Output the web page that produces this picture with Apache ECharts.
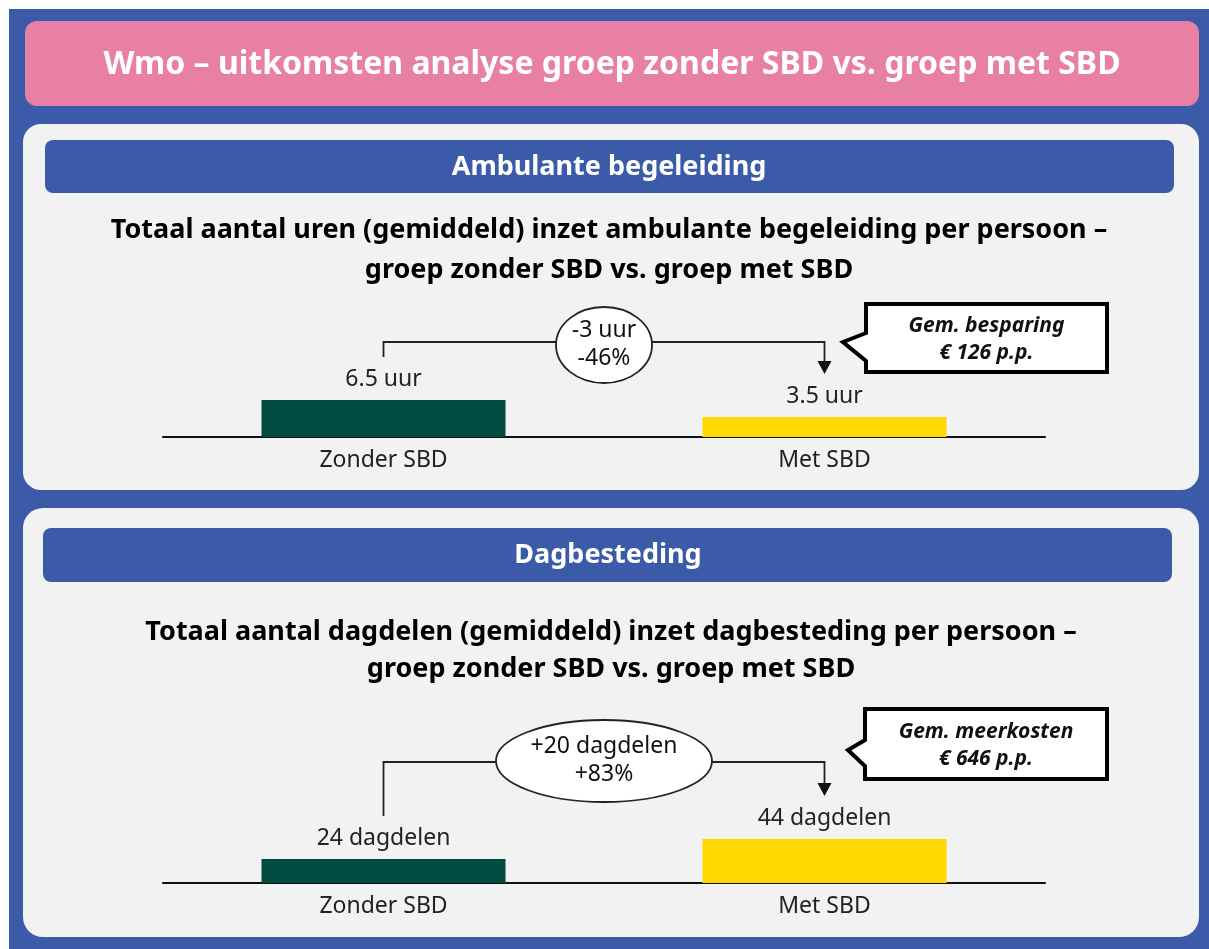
<!DOCTYPE html>
<html>
<head>
<meta charset="utf-8">
<script src="https://cdn.jsdelivr.net/npm/echarts@6/dist/echarts.min.js"></script>
<style>
  html, body { margin: 0; padding: 0; background: #fff; }
  #main { width: 1209px; height: 949px; }
</style>
</head>
<body>
<div id="main"></div>
<script>
  // data
  var categories = ["Zonder SBD", "Met SBD"];
  var urenValues = [6.5, 3.5];
  var dagdelenValues = [24, 44];
  var urenDiff = ["-3 uur", "-46%"];
  var dagdelenDiff = ["+20 dagdelen", "+83%"];
  var urenCallout = ["Gem. besparing", "€ 126 p.p."];
  var dagdelenCallout = ["Gem. meerkosten", "€ 646 p.p."];
  var barColors = ["#024B41", "#FFD800"];

  var blue = "#3B5BA8";
  var font = "'Noto Sans', sans-serif";

  var myChart = echarts.init(document.getElementById("main"));

  function barSeries(values, idx, unit) {
    return {
      type: "bar",
      xAxisIndex: idx,
      yAxisIndex: idx,
      barWidth: 244,
      data: values.map(function(v, i) {
        return { value: v, itemStyle: { color: barColors[i] } };
      }),
      label: {
        show: true,
        position: "top",
        distance: 9,
        color: "#222",
        fontFamily: font,
        fontSize: 23,
        formatter: function(p) { return p.value + " " + unit; }
      },
      silent: true
    };
  }

  function xAxis(idx) {
    return {
      type: "category",
      gridIndex: idx,
      data: categories,
      axisLine: { lineStyle: { color: "#111", width: 2 } },
      axisTick: { show: false },
      axisLabel: { color: "#222", fontFamily: font, fontSize: 23, margin: 12 }
    };
  }

  function yAxis(idx, max) {
    return { type: "value", gridIndex: idx, min: 0, max: max, show: false, splitLine: { show: false } };
  }

  myChart.setOption({
    animation: false,
    grid: [
      { left: 163, width: 882, top: 380, height: 57 },
      { left: 163, width: 882, top: 783, height: 100 }
    ],
    xAxis: [xAxis(0), xAxis(1)],
    yAxis: [yAxis(0, 10), yAxis(1, 100)],
    series: [barSeries(urenValues, 0, "uur"), barSeries(dagdelenValues, 1, "dagdelen")]
  });

  function txt(str, x, y, size, weight, color, style) {
    return {
      type: "text",
      z: 5,
      style: {
        text: str, x: x, y: y, fill: color,
        fontFamily: font, fontSize: size, fontWeight: weight, fontStyle: style || "normal",
        textAlign: "center", textVerticalAlign: "middle"
      }
    };
  }

  function rect(x1, y1, x2, y2, r, color) {
    return { type: "rect", z: -10, shape: { x: x1, y: y1, width: x2 - x1, height: y2 - y1, r: r }, style: { fill: color } };
  }

  // connector from left bar to right bar with a bubble and callout
  function annotation(gridIdx, values, lineY, bubble, diff, callout) {
    var p0 = myChart.convertToPixel({ gridIndex: gridIdx }, [0, values[0]]);
    var p1 = myChart.convertToPixel({ gridIndex: gridIdx }, [1, values[1]]);
    var gap = 43;
    var out = [];
    out.push({
      type: "polyline", z: 3,
      shape: { points: [[p0[0], p0[1] - gap], [p0[0], lineY], [p1[0], lineY], [p1[0], p1[1] - gap - 10]] },
      style: { stroke: "#222", lineWidth: 1.8, fill: null }
    });
    out.push({
      type: "polygon", z: 3,
      shape: { points: [[p1[0] - 7, p1[1] - gap - 13], [p1[0] + 7, p1[1] - gap - 13], [p1[0], p1[1] - gap]] },
      style: { fill: "#111" }
    });
    var cx = (p0[0] + p1[0]) / 2;
    out.push({
      type: "ellipse", z: 4,
      shape: { cx: cx, cy: bubble.cy, rx: bubble.rx, ry: bubble.ry },
      style: { fill: "#fff", stroke: "#222", lineWidth: 1.8 }
    });
    out.push(txt(diff[0], cx, bubble.cy - 15, 23, "normal", "#111"));
    out.push(txt(diff[1], cx, bubble.cy + 13, 23, "normal", "#111"));
    var c = callout;
    out.push({
      type: "polygon", z: 4,
      shape: { points: [[c.x1, c.y1], [c.x2, c.y1], [c.x2, c.y2], [c.x1, c.y2], [c.x1, c.tb], [c.tx, c.ty], [c.x1, c.ta]] },
      style: { fill: "#fff", stroke: "#000", lineWidth: 4, lineJoin: "miter" }
    });
    var mx = (c.x1 + c.x2) / 2;
    var my = (c.y1 + c.y2) / 2;
    out.push(txt(callout.lines[0], mx, my - 12, 21, "bold", "#111", "italic"));
    out.push(txt(callout.lines[1], mx, my + 15, 21, "bold", "#111", "italic"));
    return out;
  }

  var graphic = [
    rect(9, 9, 1209, 949, 0, blue),
    rect(25, 21, 1199, 106, 12, "#E880A5"),
    rect(23, 124, 1199, 490, 18, "#F2F2F2"),
    rect(45, 140, 1174, 193, 8, blue),
    rect(23, 508, 1199, 937, 20, "#F2F2F2"),
    rect(43, 528, 1172, 582, 8, blue),
    txt("Wmo – uitkomsten analyse groep zonder SBD vs. groep met SBD", 612, 65, 32, "bold", "#fff"),
    txt("Ambulante begeleiding", 609, 167, 27, "bold", "#fff"),
    txt("Dagbesteding", 608, 555, 27, "bold", "#fff"),
    txt("Totaal aantal uren (gemiddeld) inzet ambulante begeleiding per persoon –", 609, 230, 27, "bold", "#000"),
    txt("groep zonder SBD vs. groep met SBD", 609, 270, 27, "bold", "#000"),
    txt("Totaal aantal dagdelen (gemiddeld) inzet dagbesteding per persoon –", 611, 632, 27, "bold", "#000"),
    txt("groep zonder SBD vs. groep met SBD", 611, 669, 27, "bold", "#000")
  ];

  graphic = graphic.concat(annotation(0, urenValues, 342, { cy: 345, rx: 48, ry: 38 }, urenDiff,
    { x1: 866, y1: 304, x2: 1107, y2: 372, ta: 333, tb: 361, tx: 843, ty: 342, lines: urenCallout }));
  graphic = graphic.concat(annotation(1, dagdelenValues, 762, { cy: 761, rx: 108, ry: 41 }, dagdelenDiff,
    { x1: 865, y1: 709, x2: 1107, y2: 779, ta: 740, tb: 766, tx: 848, ty: 750, lines: dagdelenCallout }));

  myChart.setOption({ graphic: graphic });
</script>
</body>
</html>
